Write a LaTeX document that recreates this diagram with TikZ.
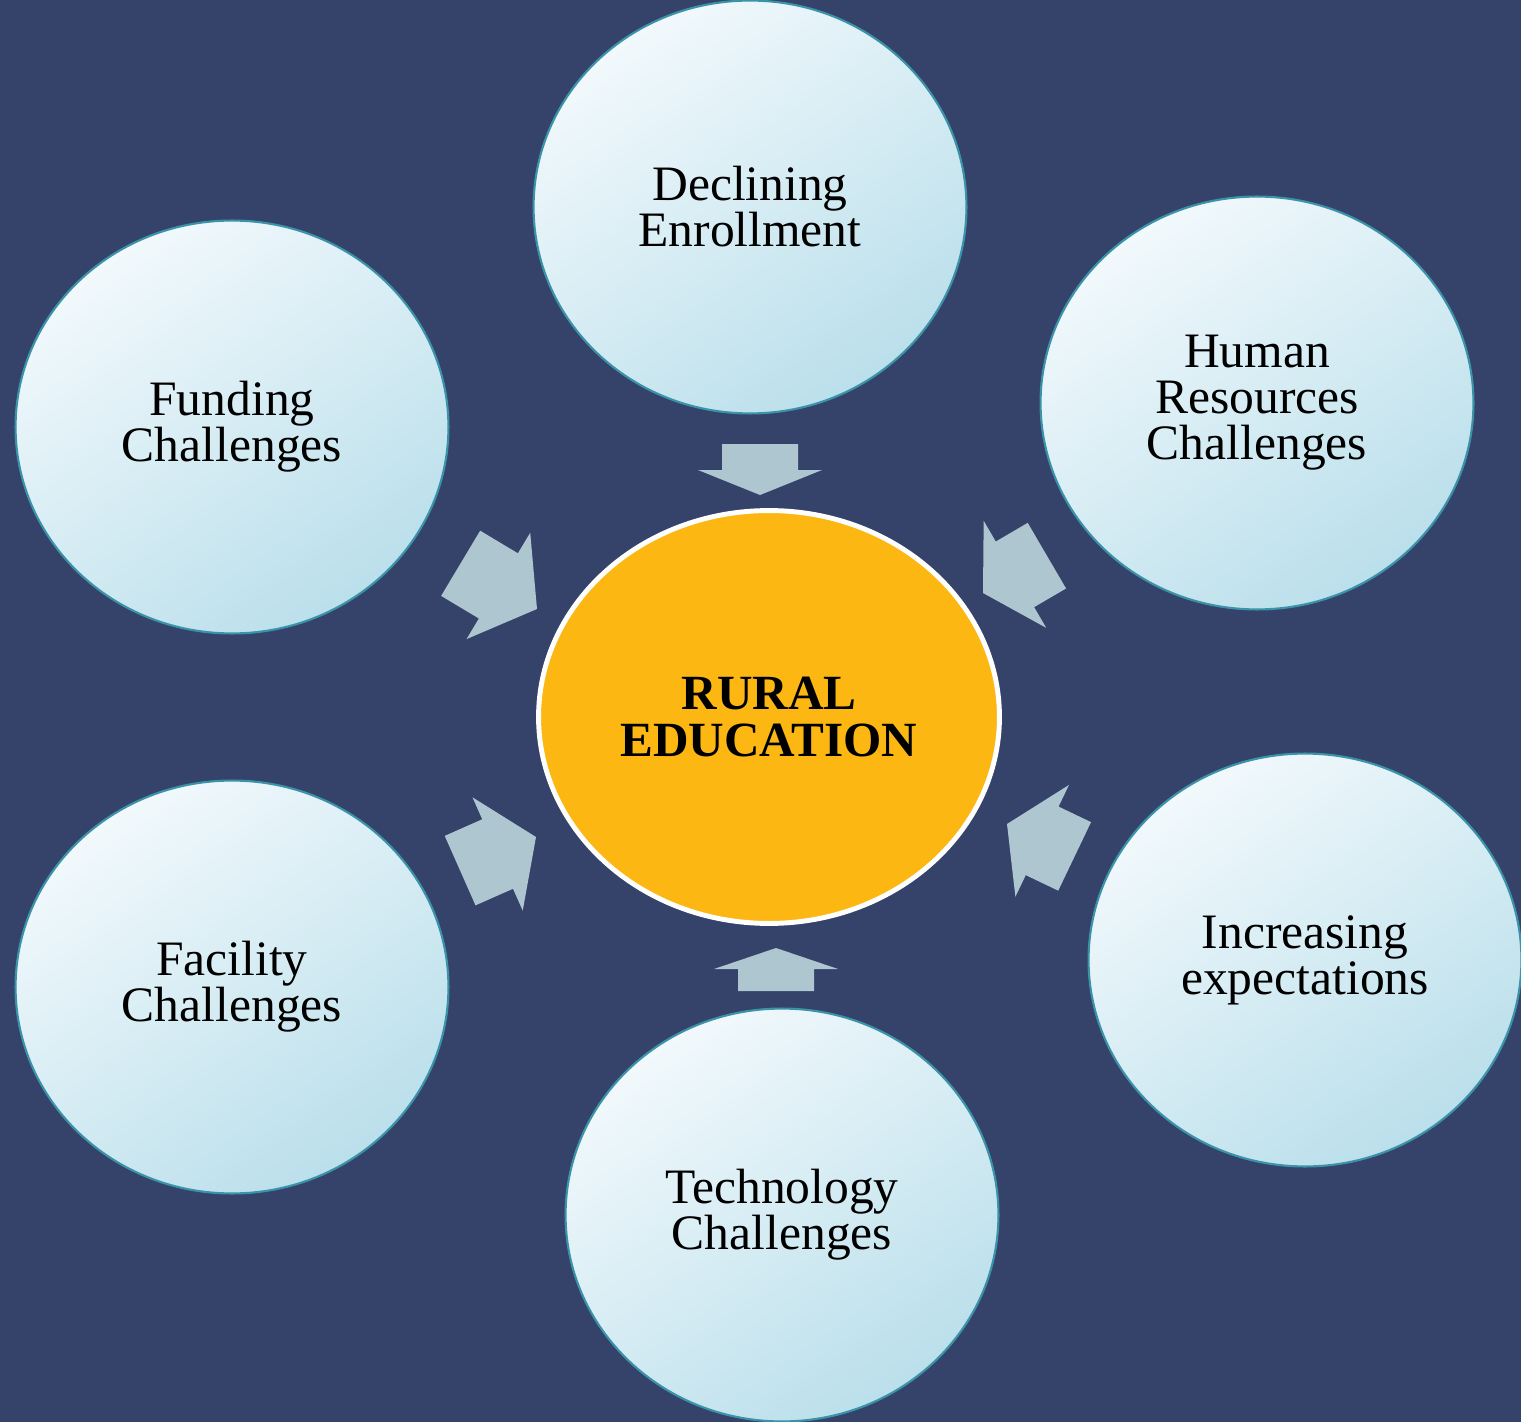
\documentclass[tikz,border=0pt]{standalone}
\usepackage{fontspec}
\setmainfont{Liberation Serif}
\usetikzlibrary{shapes.geometric}

\definecolor{bgblue}{HTML}{35426A}
\definecolor{ringteal}{HTML}{3A93A8}
\definecolor{bubbletop}{HTML}{F2F9FC}
\definecolor{bubblebot}{HTML}{BADFEB}
\definecolor{coreyellow}{HTML}{FDB713}
\definecolor{arrowgrey}{HTML}{AEC6D0}

% block arrow: tip x, tip y, angle, shaft length, head length
\newcommand{\blockarrow}[5]{%
  \fill[arrowgrey, shift={(#1,#2)}, rotate=#3]
    (0,0) -- (-#5,62) -- (-#5,38) -- ({-#5-#4},38) -- ({-#5-#4},-38)
    -- (-#5,-38) -- (-#5,-62) -- cycle;
}

\begin{document}
\begin{tikzpicture}[x=0.02cm, y=-0.02cm,
  bubble/.style={ellipse, draw=ringteal, line width=1.2pt,
    minimum width=8.66cm, minimum height=8.26cm, inner sep=0pt,
    align=center, font=\fontsize{28.2}{26.2}\selectfont,
    top color=bubbletop, bottom color=bubblebot, shading angle=35},
  core/.style={ellipse, fill=coreyellow, draw=white, line width=2.8pt,
    minimum width=9.22cm, minimum height=8.26cm, inner sep=0pt,
    align=center, font=\fontsize{28}{26.6}\selectfont\bfseries}]

\useasboundingbox (0,0) rectangle (1521,1422);
\fill[bgblue] (0,0) rectangle (1521,1422);

% ======================================
% THE CENTRE
% ======================================
\node[core] (rural) at (769,717) {RURAL\\EDUCATION};

% ======================================
% THE SIX CHALLENGES
% ======================================
\node[bubble] (declining) at (750,207) {Declining\\Enrollment};
\node[bubble] (human) at (1257,403) {Human\\Resources\\Challenges};
\node[bubble] (increasing) at (1305,960) {Increasing\\expectations};
\node[bubble] (technology) at (782,1215) {Technology\\Challenges};
\node[bubble] (facility) at (232,987) {Facility\\Challenges};
\node[bubble] (funding) at (232,427) {Funding\\Challenges};

% ======================================
% ARROWS INTO THE CENTRE
% ======================================
\blockarrow{760}{495}{-90}{26}{25}
\blockarrow{983}{593}{-149.7}{37}{37}
\blockarrow{1007}{824}{154.4}{36}{39}
\blockarrow{776}{948}{90}{22}{21}
\blockarrow{536}{837}{23.9}{41}{42}
\blockarrow{537}{609}{-30.9}{44}{45}

\end{tikzpicture}
\end{document}
